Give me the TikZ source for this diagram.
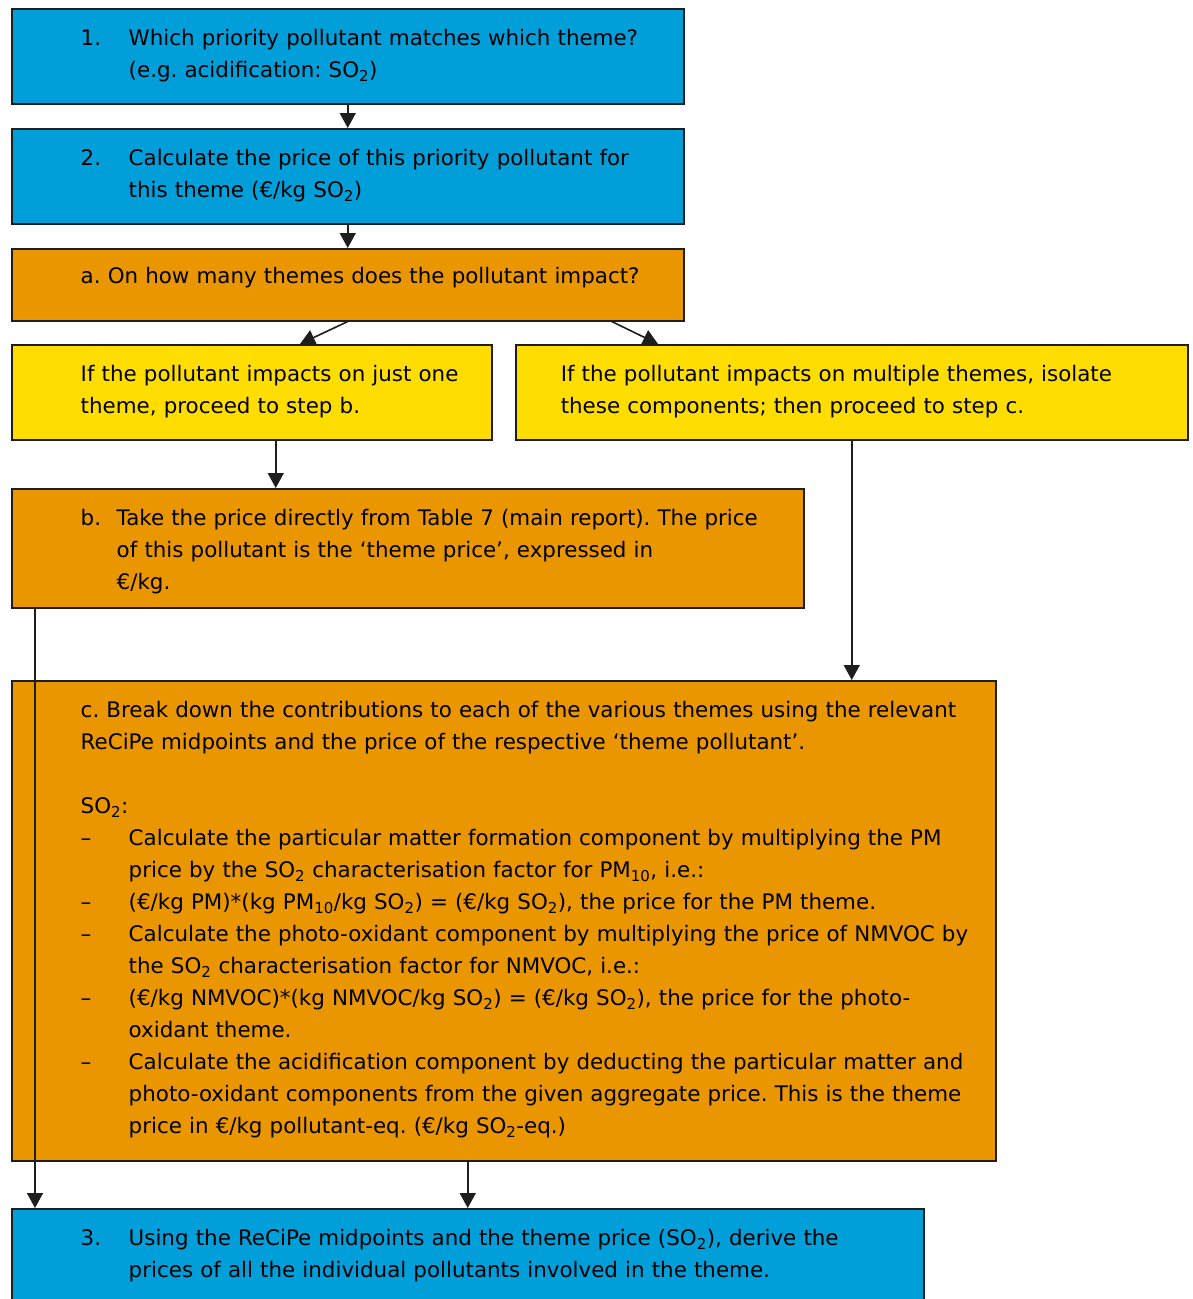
\documentclass[tikz,border=0pt]{standalone}
\usepackage{fontspec}
\setmainfont{DejaVu Sans}
\usepackage{xcolor}
\usepackage{tikz}
\usetikzlibrary{arrows.meta, positioning, calc}

\definecolor{stepblue}{HTML}{009FDA}
\definecolor{steporange}{HTML}{EA9600}
\definecolor{stepyellow}{HTML}{FFDD00}
\definecolor{stepline}{HTML}{1E1E1E}

\begin{document}
\begin{tikzpicture}[
    x=1pt, y=-1pt,
    stepbox/.style={rectangle, draw=stepline, line width=1.5pt, anchor=north west,
        inner sep=0pt, align=left, font=\fontsize{21.4pt}{32pt}\selectfont\frenchspacing},
    textpad/.style={execute at begin node={\leftskip=#1\rightskip=-80pt plus 1fil\relax}},
    bluebox/.style={stepbox, fill=stepblue},
    orangebox/.style={stepbox, fill=steporange},
    yellowbox/.style={stepbox, fill=stepyellow},
    flow/.style={line width=1.6pt, stepline, -{Triangle[width=16pt, length=15pt]}}
]
\useasboundingbox (0,0) rectangle (1192,1299);
\clip (0,0) rectangle (1192,1299);

% Steps
\node[bluebox, textpad=69pt, text width=672pt, text height=37pt, text depth=58pt] (q1) at (11,8) {
    \makebox[48pt][l]{1.}Which priority pollutant matches which theme?\\
    \hspace*{48pt}(e.g. acidification: SO\textsubscript{2})
};

\node[bluebox, textpad=69pt, text width=672pt, text height=37pt, text depth=58pt] (q2) at (11,128) {
    \makebox[48pt][l]{2.}Calculate the price of this priority pollutant for\\
    \hspace*{48pt}this theme (€/kg SO\textsubscript{2})
};

\node[orangebox, textpad=69pt, text width=672pt, text height=35pt, text depth=37pt] (qa) at (11,248) {
    a. On how many themes does the pollutant impact?
};

\node[yellowbox, textpad=69pt, text width=480pt, text height=37pt, text depth=58pt] (yl) at (11,344) {
    If the pollutant impacts on just one\\
    theme, proceed to step b.
};

\node[yellowbox, textpad=45pt, text width=672pt, text height=37pt, text depth=58pt] (yr) at (515,344) {
    If the pollutant impacts on multiple themes, isolate\\
    these components; then proceed to step c.
};

\node[orangebox, textpad=69pt, text width=792pt, text height=37pt, text depth=82pt] (qb) at (11,488) {
    \makebox[36pt][l]{b.}Take the price directly from Table 7 (main report). The price\\
    \hspace*{36pt}of this pollutant is the ‘theme price’, expressed in\\
    \hspace*{36pt}€/kg.
};

\node[orangebox, textpad=69pt, text width=984pt, text height=37pt, text depth=443pt] (qc) at (11,680) {
    c. Break down the contributions to each of the various themes using the relevant\\
    ReCiPe midpoints and the price of the respective ‘theme pollutant’.\\[32pt]
    SO\textsubscript{2}:\\
    \makebox[48pt][l]{–}Calculate the particular matter formation component by multiplying the PM\\
    \hspace*{48pt}price by the SO\textsubscript{2} characterisation factor for PM\textsubscript{10}, i.e.:\\
    \makebox[48pt][l]{–}(€/kg PM)*(kg PM\textsubscript{10}/kg SO\textsubscript{2}) = (€/kg SO\textsubscript{2}), the price for the PM theme.\\
    \makebox[48pt][l]{–}Calculate the photo-oxidant component by multiplying the price of NMVOC by\\
    \hspace*{48pt}the SO\textsubscript{2} characterisation factor for NMVOC, i.e.:\\
    \makebox[48pt][l]{–}(€/kg NMVOC)*(kg NMVOC/kg SO\textsubscript{2}) = (€/kg SO\textsubscript{2}), the price for the photo-\\
    \hspace*{48pt}oxidant theme.\\
    \makebox[48pt][l]{–}Calculate the acidification component by deducting the particular matter and\\
    \hspace*{48pt}photo-oxidant components from the given aggregate price. This is the theme\\
    \hspace*{48pt}price in €/kg pollutant-eq. (€/kg SO\textsubscript{2}-eq.)
};

\node[bluebox, textpad=69pt, text width=912pt, text height=37pt, text depth=85pt] (q3) at (11,1208) {
    \makebox[48pt][l]{3.}Using the ReCiPe midpoints and the theme price (SO\textsubscript{2}), derive the\\
    \hspace*{48pt}prices of all the individual pollutants involved in the theme.
};

% Connectors
\coordinate (ylout) at ([xshift=24pt]yl.south);
\coordinate (qbout) at ([xshift=24pt]qb.south west);

\draw[flow] (q1.south) -- (q2.north);
\draw[flow] (q2.south) -- (qa.north);
\draw[flow] (qa.south) -- ([xshift=289pt]yl.north west);
\draw[flow] ([xshift=264pt]qa.south) -- ([xshift=143pt]yr.north west);
\draw[flow] (ylout) -- (ylout |- qb.north);
\draw[flow] (yr.south) -- (yr.south |- qc.north);
\draw[flow] (qbout) -- (qbout |- q3.north);
\draw[flow] (qc.south -| q3.north) -- (q3.north);

\end{tikzpicture}
\end{document}
